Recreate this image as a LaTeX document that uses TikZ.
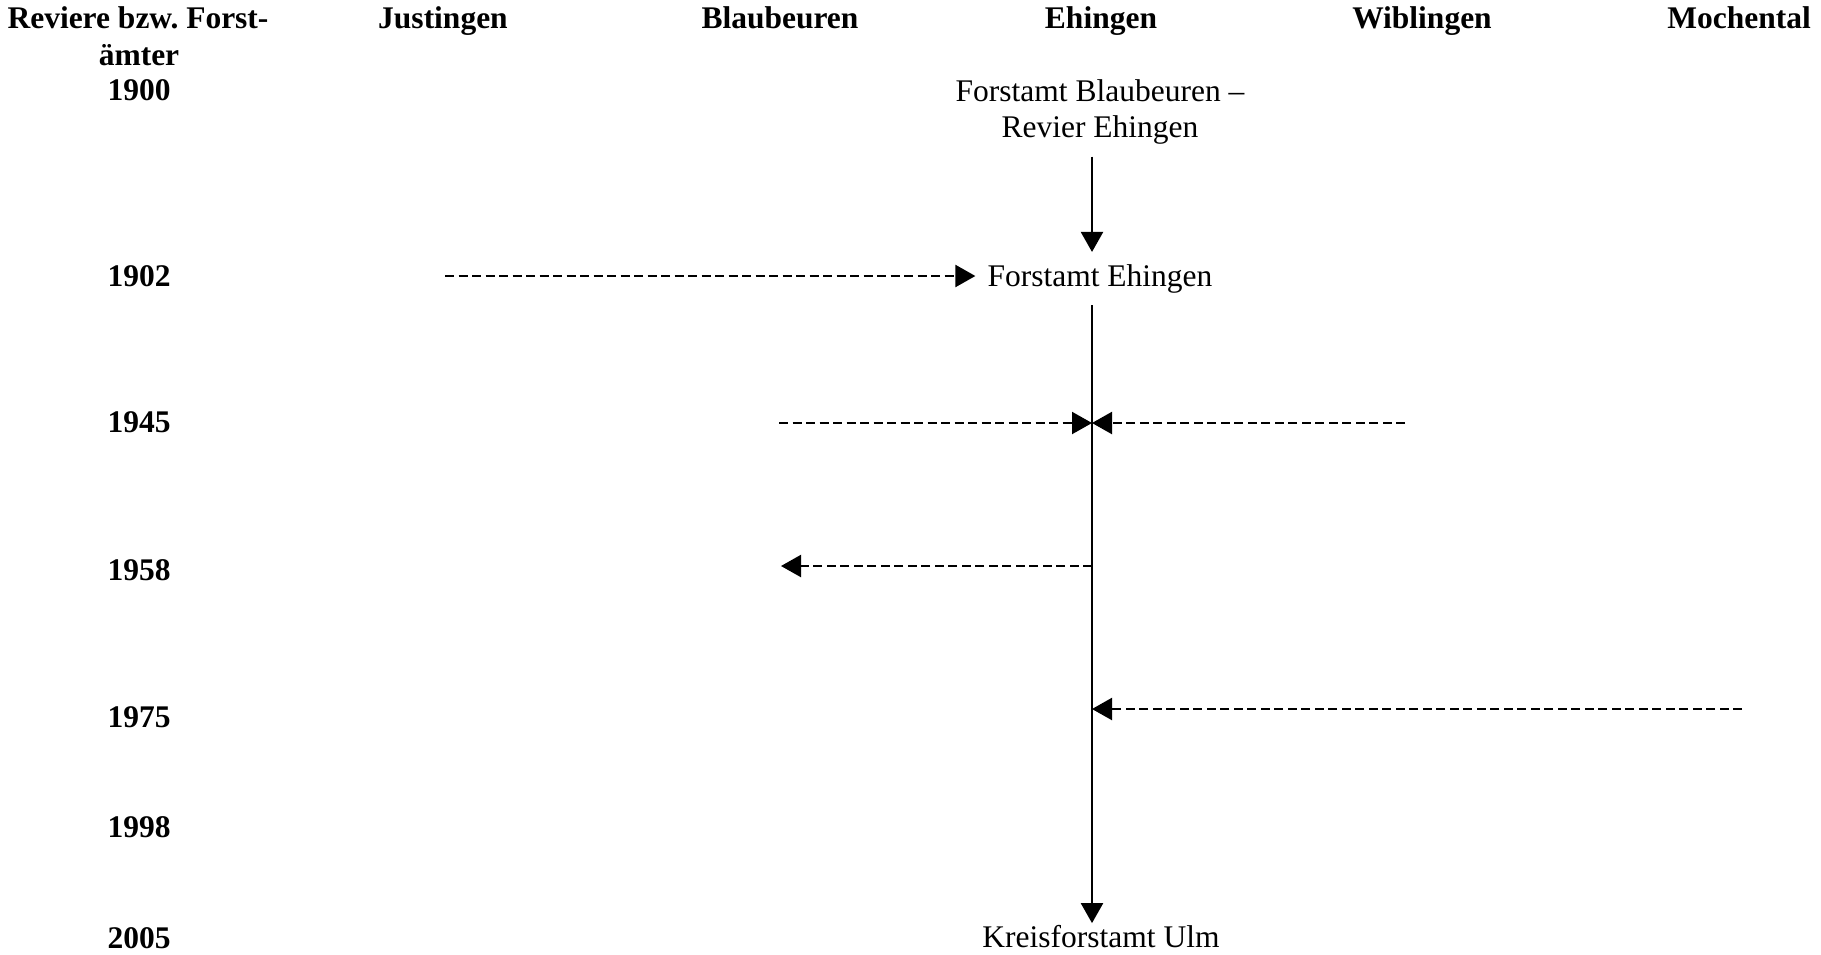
\documentclass[tikz,border=0pt]{standalone}
\usepackage{fontspec}
\setmainfont{Liberation Serif}
\usetikzlibrary{arrows.meta}
\frenchspacing
\begin{document}
\begin{tikzpicture}[x=1pt,y=-1pt,
  every node/.style={font=\fontsize{31.5}{36}\selectfont, inner sep=0pt},
  hdr/.style={font=\fontsize{31.5}{36}\selectfont\bfseries, anchor=base},
  lbl/.style={anchor=base, inner sep=12pt},
  flow/.style={line width=2.2pt, -{Triangle[length=20pt,width=22pt]}},
  merge/.style={line width=2.2pt, dash pattern=on 9pt off 4.5pt, -{Triangle[length=20pt,width=22pt]}}
]
\useasboundingbox (0,0) rectangle (1821,954);

% header row
\node[hdr] (h0) at (138,28) {Reviere bzw. Forst-};
\node[hdr] (h0b) at (139,65) {ämter};
\node[hdr] (hJ) at (443,28) {Justingen};
\node[hdr] (hB) at (780,28) {Blaubeuren};
\node[hdr] (hE) at (1101,28) {Ehingen};
\node[hdr] (hW) at (1422,28) {Wiblingen};
\node[hdr] (hM) at (1739,28) {Mochental};

% years
\node[hdr] (y1900) at (139,100) {1900};
\node[hdr] (y1902) at (139,286) {1902};
\node[hdr] (y1945) at (139,432) {1945};
\node[hdr] (y1958) at (139,580) {1958};
\node[hdr] (y1975) at (139,727) {1975};
\node[hdr] (y1998) at (139,837) {1998};
\node[hdr] (y2005) at (139,948) {2005};

% offices
\node[anchor=north, align=center, inner sep=12pt] (fb) at (1100,67.5) {Forstamt Blaubeuren –\\Revier Ehingen};
\node[lbl] (fe) at (1100,286) {Forstamt Ehingen};
\node[anchor=base, inner sep=0pt] (ku) at (1101,947) {Kreisforstamt Ulm};

% spine and free ends
\coordinate (spine) at (1092,0);
\coordinate (j02) at (445,276);
\coordinate (b45) at (779,423);
\coordinate (w45) at (1405,423);
\coordinate (b58) at (781,566);
\coordinate (m75) at (1742,709);

% connectors
\draw[flow] (fb.south -| spine) -- (fe.north -| spine);
\draw[flow] (fe.south -| spine) -- ([yshift=1.5pt]ku.north -| spine);
\draw[merge] (j02) -- (j02 -| fe.west);
\draw[merge] (b45) -- (b45 -| spine);
\draw[merge] (w45) -- (w45 -| spine);
\draw[merge] (b58 -| spine) -- (b58);
\draw[merge] (m75) -- (m75 -| spine);
\end{tikzpicture}
\end{document}
